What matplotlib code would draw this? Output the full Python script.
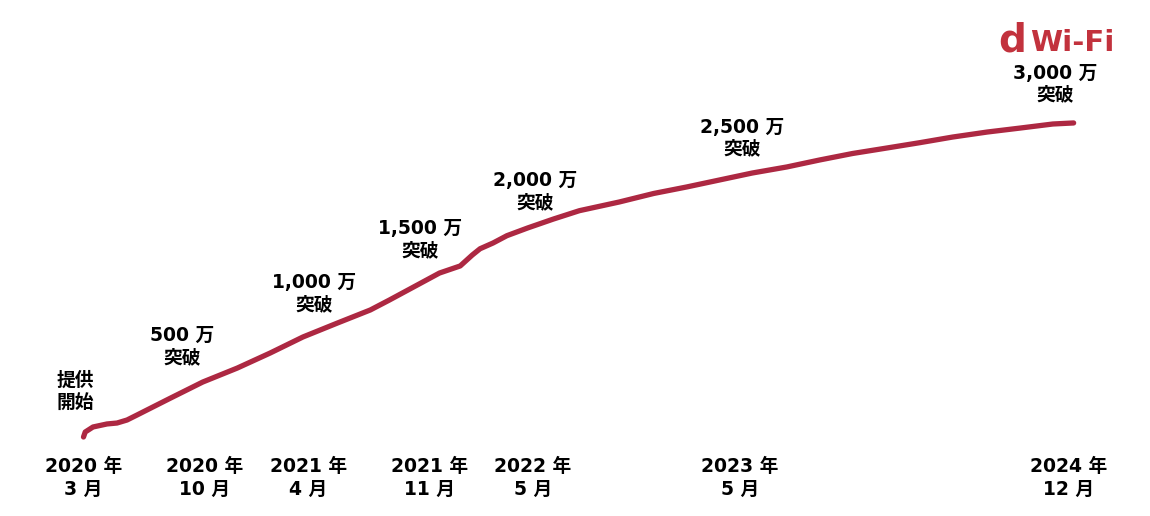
import matplotlib.pyplot as plt

plt.rcParams['font.family'] = ['DejaVu Sans', 'Noto Sans CJK JP']

# months since 2020-03, users in 万
months = [0, 0.1, 0.55, 1.36, 1.94, 2.52, 3.1, 5.0, 6.9, 8.9, 10.8, 12.7,
          14.7, 16.6, 17.7, 19.1, 20.6, 21.8, 22.5, 22.95, 23.7, 24.5,
          25.7, 27.2, 28.7, 31.0, 33.0, 34.9, 36.8, 38.7, 40.7, 42.6,
          44.5, 46.5, 48.4, 50.3, 52.3, 54.2, 56.1, 57.3]
users = [0, 48, 96, 125, 134, 163, 211, 370, 527, 661, 805, 959,
         1093, 1218, 1313, 1438, 1572, 1640, 1745, 1805, 1860, 1930,
         2004, 2090, 2170, 2253, 2335, 2397, 2464, 2531, 2589, 2656,
         2718, 2771, 2822, 2876, 2924, 2962, 3001, 3011]

tick_months = [0, 7, 13, 20, 26, 38, 57]
tick_labels = ['2020 年\n3 月', '2020 年\n10 月', '2021 年\n4 月', '2021 年\n11 月',
               '2022 年\n5 月', '2023 年\n5 月', '2024 年\n12 月']

milestone_months = [0, 7, 13, 20, 26, 38, 57]
milestone_users = [0, 500, 1000, 1500, 2000, 2500, 3000]
milestone_labels = ['提供\n開始', '500 万\n突破', '1,000 万\n突破', '1,500 万\n突破',
                    '2,000 万\n突破', '2,500 万\n突破', '3,000 万\n突破']
label_offsets = [(-8, 46), (-22, 38), (6, 39), (-9, 41), (2, 37), (2, 38), (-13, 40)]

line_color = '#ad2842'
logo_color = '#c2323d'

fig = plt.figure(figsize=(11.5, 5.16), dpi=100)
ax = fig.add_axes([0, 66 / 516, 1, 450 / 516])
ax.plot(months, users, color=line_color, lw=3.8, solid_capstyle='round',
        solid_joinstyle='round')

ax.set_xlim(-83.5 / 17.28, (1150 - 83.5) / 17.28)
ax.set_ylim((437 - 450) / 0.1043, 437 / 0.1043)

for side in ax.spines.values():
    side.set_visible(False)
ax.set_yticks([])
ax.set_xticks(tick_months)
ax.set_xticklabels(tick_labels, fontsize=13.5, fontweight='bold', linespacing=1.25,
                   multialignment='center')
ax.tick_params(axis='x', length=0, pad=5)

for m, u, lab, off in zip(milestone_months, milestone_users, milestone_labels, label_offsets):
    ax.annotate(lab, xy=(m, u), xytext=off, textcoords='offset pixels',
                ha='center', va='center', fontsize=13.5, fontweight='bold',
                linespacing=1.2, multialignment='center')

fig.text(998 / 1150, 1 - 52 / 516, 'd', fontsize=28, fontweight='bold',
         color=logo_color, family='DejaVu Sans', ha='left', va='baseline')
fig.text(1030 / 1150, 1 - 51 / 516, 'Wi-Fi', fontsize=21, fontweight='bold',
         color=logo_color, family='DejaVu Sans', ha='left', va='baseline')

fig.savefig('out.png', dpi=100)
